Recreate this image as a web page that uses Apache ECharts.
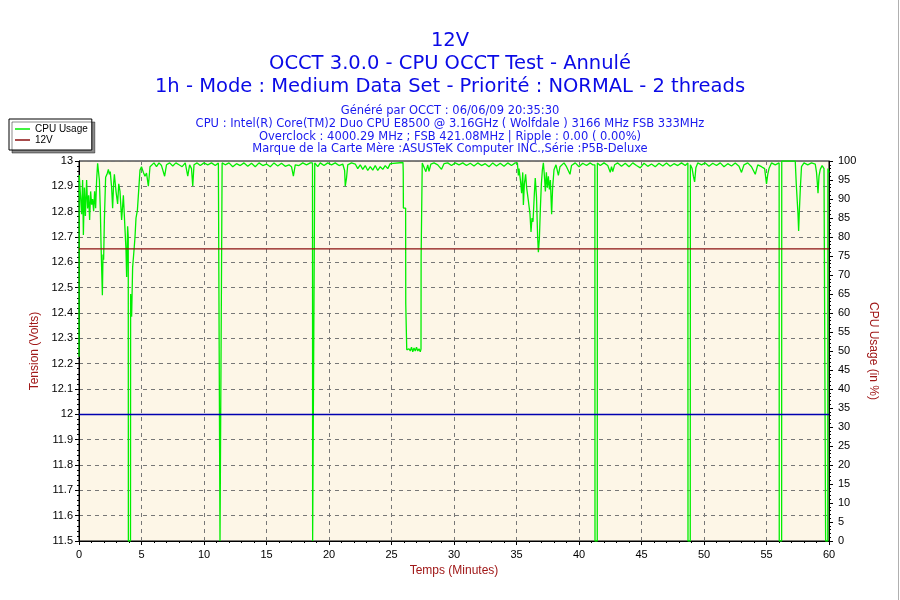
<!DOCTYPE html>
<html>
<head>
<meta charset="utf-8"/>
<title>OCCT 12V</title>
<script src="https://cdn.jsdelivr.net/npm/echarts@6/dist/echarts.min.js"></script>
<style>
  html, body { margin: 0; padding: 0; background: #fff; }
  #main { width: 900px; height: 600px; }
</style>
</head>
<body>
<div id="main"></div>
<script type="text/javascript">
// titres
var titleLines = ['12V', 'OCCT 3.0.0 - CPU OCCT Test - Annulé', '1h - Mode : Medium Data Set - Priorité : NORMAL - 2 threads'];
var infoLines = [
    'Généré par OCCT : 06/06/09 20:35:30',
    'CPU : Intel(R) Core(TM)2 Duo CPU E8500 @ 3.16GHz ( Wolfdale ) 3166 MHz FSB 333MHz',
    'Overclock : 4000.29 MHz ; FSB 421.08MHz | Ripple : 0.00 ( 0.00%)',
    'Marque de la Carte Mère :ASUSTeK Computer INC.,Série :P5B-Deluxe'
];

// tension 12V (Volts) : [minutes, volts]
var volt12 = [[0, 12.653], [60, 12.653]];
var voltLimit = 12;

// CPU usage (%) : [minutes, %]
var cpuUsage = [
    [0, 48.5], [0.02, 96.3], [0.13, 96.3], [0.21, 86], [0.29, 95], [0.35, 80.5], [0.43, 93], [0.51, 85.5],
    [0.61, 95], [0.69, 87.5], [0.77, 91], [0.85, 84.5], [0.93, 92], [1.01, 88.5], [1.09, 90], [1.17, 86.8],
    [1.25, 92], [1.33, 87.6], [1.41, 95], [1.49, 99.4], [1.63, 95], [1.71, 86.8], [1.76, 78.4], [1.81, 72],
    [1.87, 64.7], [1.92, 75.4], [1.97, 74], [2.03, 84.5], [2.13, 95.7], [2.24, 96.5], [2.35, 97.8], [2.43, 96.5],
    [2.5, 97.2], [2.61, 93], [2.69, 87.6], [2.77, 94], [2.83, 96.5], [2.96, 92], [3.09, 88.7], [3.18, 94],
    [3.28, 92], [3.41, 84.5], [3.55, 91], [3.68, 82], [3.76, 76.6], [3.81, 69.5], [3.89, 82.8], [3.94, 80],
    [3.95, 0], [4.12, 0], [4.13, 65], [4.21, 59], [4.29, 72], [4.4, 76.5], [4.48, 80], [4.56, 85],
    [4.67, 87], [4.77, 92], [4.88, 97.6], [5.0, 98.5], [5.15, 97], [5.28, 96], [5.4, 96.8], [5.55, 93.4],
    [5.68, 98.5], [6.0, 99.5], [6.2, 98.5], [6.4, 99.5], [6.6, 98.8], [6.85, 96], [7.0, 99], [7.25, 99.5],
    [7.5, 98.7], [7.75, 99.5], [8.0, 99], [8.25, 98.5], [8.5, 99.5], [8.7, 96], [8.85, 99], [9.0, 98],
    [9.1, 93.4], [9.2, 99], [9.45, 99.5], [9.7, 98.8], [10.0, 99.5], [10.3, 99], [10.6, 99.5], [10.9, 98.8],
    [11.15, 99.5], [11.27, 99.5], [11.28, 0], [11.44, 0], [11.45, 99.5], [11.7, 99], [12.0, 99.5], [12.3, 98.5],
    [12.6, 99.3], [12.9, 98.8], [13.2, 99.5], [13.5, 98.6], [13.8, 99.4], [14.1, 98.5], [14.4, 99.5], [14.7, 98.8],
    [15.0, 99.2], [15.3, 98.5], [15.6, 99.5], [15.9, 98.7], [16.2, 99.4], [16.5, 98.6], [16.8, 99], [17.0, 98.5],
    [17.15, 96], [17.3, 99], [17.6, 98.8], [17.9, 99.5], [18.2, 99], [18.5, 99.5], [18.68, 99.5], [18.69, 0],
    [18.85, 0], [18.86, 99.5], [19.1, 98.5], [19.3, 99.5], [19.6, 98.8], [19.9, 99.5], [20.2, 99], [20.5, 99.5],
    [20.8, 98.8], [21.1, 99.2], [21.25, 97.5], [21.3, 93.4], [21.4, 95.5], [21.5, 99], [21.8, 99.5], [22.1, 99.2],
    [22.3, 98], [22.5, 99], [22.7, 97.8], [22.9, 98.8], [23.1, 97.5], [23.3, 98.5], [23.5, 97.6], [23.7, 98.8],
    [23.9, 97.5], [24.1, 98.5], [24.3, 97.8], [24.5, 98.8], [24.7, 98], [24.9, 99.3], [25.0, 99.6], [25.92, 99.6],
    [25.94, 97], [25.95, 87.6], [26.13, 87.6], [26.14, 62.5], [26.21, 62.5], [26.22, 50.3], [26.3, 49.8], [26.4, 50.6],
    [26.5, 50], [26.6, 51], [26.7, 49.8], [26.8, 50.8], [26.9, 50], [27.0, 51], [27.1, 50], [27.2, 50.6],
    [27.3, 49.8], [27.36, 50.5], [27.37, 75], [27.45, 75], [27.46, 99.5], [27.6, 99], [27.75, 97.2], [27.9, 99],
    [28.0, 97.3], [28.15, 99.2], [28.4, 99.5], [28.7, 99], [29.0, 97.8], [29.2, 99.3], [29.5, 99.5], [29.8, 98.8],
    [30.1, 99.5], [30.4, 99], [30.7, 99.5], [31.0, 98.8], [31.3, 99.4], [31.6, 98.7], [31.9, 99.5], [32.2, 98.8],
    [32.5, 99.3], [32.8, 98.5], [33.1, 99.5], [33.4, 98.7], [33.7, 99.4], [34.0, 98.6], [34.3, 99.5], [34.6, 98.8],
    [34.9, 99.5], [35.07, 99.5], [35.15, 96.2], [35.2, 98], [35.33, 94.5], [35.41, 91.5], [35.5, 97], [35.55, 88.4],
    [35.63, 94], [35.73, 96.5], [35.81, 93], [35.95, 89.5], [36.08, 86], [36.16, 81.3], [36.24, 85], [36.32, 84],
    [36.43, 91.5], [36.5, 95.5], [36.6, 90.5], [36.69, 80], [36.75, 76], [36.83, 79.6], [36.91, 87.6], [36.99, 94],
    [37.07, 97.7], [37.15, 99.5], [37.23, 96.2], [37.31, 92], [37.39, 97], [37.47, 93], [37.55, 96], [37.63, 92.5],
    [37.71, 95], [37.81, 86], [37.89, 93], [38.0, 97.7], [38.16, 99], [38.35, 96.2], [38.48, 98.5], [38.8, 99.5],
    [39.0, 98.5], [39.28, 96.5], [39.4, 98.8], [39.7, 99.5], [40.0, 98.5], [40.3, 99.4], [40.6, 98.8], [40.9, 99.5],
    [41.1, 99], [41.27, 99], [41.28, 0], [41.46, 0], [41.47, 99.5], [41.7, 98.8], [42.0, 99.5], [42.3, 98.8],
    [42.5, 97], [42.6, 98.5], [42.7, 97.2], [42.85, 99], [43.1, 99.5], [43.4, 98.6], [43.7, 99.4], [44.0, 98.5],
    [44.3, 99.5], [44.6, 98.8], [44.9, 98.2], [45.2, 99.4], [45.5, 98.6], [45.8, 99.2], [46.1, 98.5], [46.4, 99.4],
    [46.7, 98.7], [47.0, 99.5], [47.3, 98.6], [47.6, 99.3], [47.9, 98.8], [48.2, 99.5], [48.5, 98.8], [48.71, 99.5],
    [48.72, 0], [48.9, 0], [48.91, 99], [49.05, 98], [49.15, 96], [49.25, 94.5], [49.35, 98.2], [49.5, 99.5],
    [49.8, 99], [50.1, 99.5], [50.4, 98.6], [50.7, 99.4], [51.0, 98.8], [51.3, 99.5], [51.6, 98.5], [51.9, 99.3],
    [52.2, 98.7], [52.5, 99.5], [52.8, 98.6], [53.0, 97], [53.2, 99], [53.5, 99.5], [53.8, 98.5], [54.1, 96.5],
    [54.3, 99], [54.6, 98.5], [54.85, 98], [55.0, 94], [55.1, 96.5], [55.2, 98], [55.4, 99.5], [55.7, 99],
    [56.01, 99.5], [56.02, 0], [56.21, 0], [56.22, 100], [57.3, 100], [57.38, 94], [57.45, 90], [57.52, 86],
    [57.57, 81.6], [57.63, 87], [57.71, 93], [57.8, 98.5], [58.0, 99.5], [58.3, 99], [58.6, 99.5], [58.9, 99.2],
    [59.0, 97], [59.07, 94], [59.12, 91.5], [59.2, 96], [59.3, 97.8], [59.45, 98.8], [59.6, 98], [59.72, 98.5],
    [59.73, 0], [59.9, 0], [59.91, 98], [60.0, 97]
];

var dom = document.getElementById('main');
var myChart = echarts.init(dom, null, { renderer: 'canvas' });

var labelFont = { color: '#000', fontSize: 11, fontFamily: 'Liberation Sans' };
var nameFont = { color: '#a01818', fontSize: 12, fontFamily: 'Liberation Sans' };

var option = {
    animation: false,
    backgroundColor: '#fff',
    title: [{
        text: titleLines.join('\n'),
        left: 'center',
        top: 24,
        textStyle: { color: '#0a0ae6', fontSize: 19.5, fontWeight: 'normal', fontFamily: 'DejaVu Sans', lineHeight: 23 }
    }, {
        text: infoLines.join('\n'),
        left: 'center',
        top: 100,
        textStyle: { color: '#1a1aee', fontSize: 11.5, fontWeight: 'normal', fontFamily: 'DejaVu Sans', lineHeight: 12.7 }
    }],
    legend: {
        orient: 'vertical',
        left: 9,
        top: 119,
        padding: [5, 4, 5, 6],
        itemGap: 1,
        itemWidth: 15,
        itemHeight: 1.5,
        icon: 'rect',
        backgroundColor: '#fff',
        borderColor: '#000',
        borderWidth: 1,
        borderRadius: 0,
        shadowColor: 'rgba(0,0,0,0.45)',
        shadowBlur: 0,
        shadowOffsetX: 3,
        shadowOffsetY: 3,
        textStyle: { color: '#000', fontSize: 10, fontFamily: 'Liberation Sans' },
        data: ['CPU Usage', '12V']
    },
    grid: {
        left: 79,
        right: 71,
        top: 161,
        bottom: 59,
        show: true,
        backgroundColor: '#fdf6e7',
        borderColor: '#000',
        borderWidth: 1
    },
    xAxis: {
        type: 'value',
        min: 0,
        max: 60,
        interval: 5,
        name: 'Temps (Minutes)',
        nameLocation: 'middle',
        nameGap: 21,
        nameTextStyle: nameFont,
        axisLine: { lineStyle: { color: '#000', width: 1 } },
        axisTick: { length: 4, lineStyle: { color: '#000' } },
        minorTick: { show: true, splitNumber: 5, length: 2, lineStyle: { color: '#000' } },
        axisLabel: labelFont,
        splitLine: { show: true, lineStyle: { color: '#777', type: [4, 4], width: 1 } }
    },
    yAxis: [{
        type: 'value',
        min: 11.5,
        max: 13,
        interval: 0.1,
        name: 'Tension (Volts)',
        nameLocation: 'middle',
        nameGap: 37,
        nameTextStyle: nameFont,
        axisLine: { show: true, lineStyle: { color: '#000', width: 1 } },
        axisTick: { show: true, length: 4, lineStyle: { color: '#000' } },
        minorTick: { show: true, splitNumber: 5, length: 2, lineStyle: { color: '#000' } },
        axisLabel: Object.assign({ margin: 6 }, labelFont),
        splitLine: { show: true, lineStyle: { color: '#777', type: [4, 4], width: 1 } }
    }, {
        type: 'value',
        position: 'right',
        min: 0,
        max: 100,
        interval: 5,
        name: 'CPU Usage (in %)',
        nameLocation: 'middle',
        nameRotate: -90,
        nameGap: 31,
        nameTextStyle: nameFont,
        axisLine: { show: true, lineStyle: { color: '#000', width: 1 } },
        axisTick: { show: true, length: 4, lineStyle: { color: '#000' } },
        minorTick: { show: true, splitNumber: 5, length: 2, lineStyle: { color: '#000' } },
        axisLabel: Object.assign({ margin: 9 }, labelFont),
        splitLine: { show: false }
    }],
    series: [{
        name: 'CPU Usage',
        type: 'line',
        yAxisIndex: 1,
        showSymbol: false,
        symbol: 'none',
        color: '#00ee00',
        lineStyle: { color: '#00ee00', width: 1.3 },
        data: cpuUsage
    }, {
        name: '12V',
        type: 'line',
        yAxisIndex: 0,
        showSymbol: false,
        symbol: 'none',
        color: '#8b1010',
        lineStyle: { color: '#8b1010', width: 1.3 },
        data: volt12,
        markLine: {
            silent: true,
            symbol: 'none',
            label: { show: false },
            lineStyle: { color: '#0000b0', type: 'solid', width: 1.3 },
            data: [{ yAxis: voltLimit }]
        }
    }],
    graphic: [{
        type: 'line',
        shape: { x1: 898.5, y1: 0, x2: 898.5, y2: 600 },
        style: { stroke: '#b0b0b0', lineWidth: 1 }
    }]
};

myChart.setOption(option);
</script>
</body>
</html>
